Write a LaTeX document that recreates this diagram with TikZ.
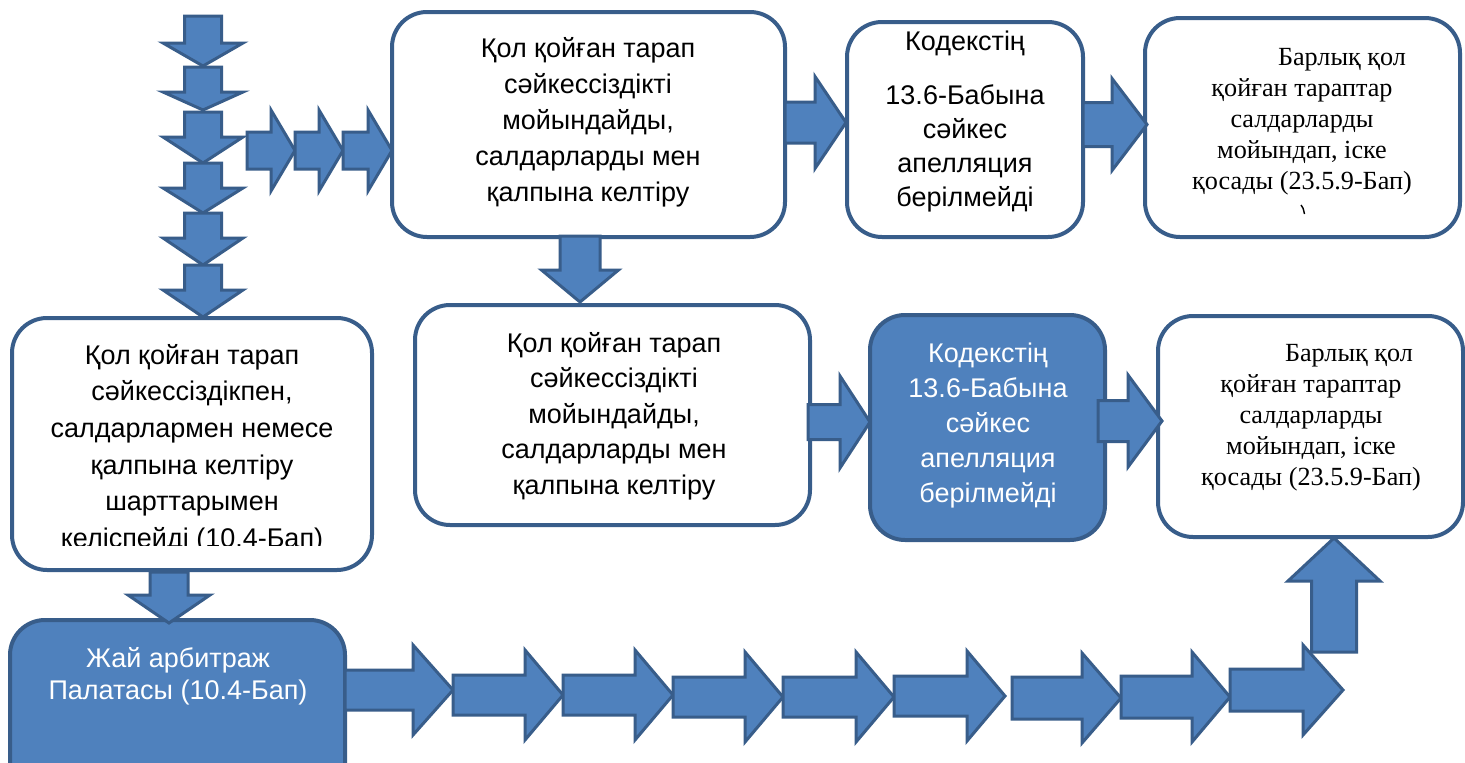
\documentclass[tikz,border=0pt]{standalone}
\usepackage{fontspec}
\setmainfont{Liberation Sans}
\newfontfamily\serifkz{Liberation Serif}
\definecolor{bfill}{HTML}{4F81BD}
\definecolor{bline}{HTML}{385D8A}
\tikzset{
  wbox/.style={draw=bline, line width=4pt, fill=white, rounded corners=35pt, inner sep=0pt},
  bbox/.style={draw=bline, line width=4pt, fill=bfill, rounded corners=35pt, inner sep=0pt},
  blk/.style={draw=bline, line width=3pt, fill=bfill, line join=miter},
  stxt/.style={align=center, inner sep=0pt, font=\fontsize{27}{36}\selectfont},
  rtxt/.style={align=center, inner sep=0pt, font=\serifkz\fontsize{26.2}{31}\selectfont},
}
\newcommand{\RArr}[6]{\draw[blk] (#1,#3-#4) -- (#2-#6,#3-#4) -- (#2-#6,#3-#5) -- (#2,#3) -- (#2-#6,#3+#5) -- (#2-#6,#3+#4) -- (#1,#3+#4) -- cycle;}
\newcommand{\DArr}[6]{\draw[blk] (#1-#4,#2) -- (#1+#4,#2) -- (#1+#4,#3-#6) -- (#1+#5,#3-#6) -- (#1,#3) -- (#1-#5,#3-#6) -- (#1-#4,#3-#6) -- cycle;}
\newcommand{\UArr}[6]{\draw[blk] (#1-#4,#2) -- (#1+#4,#2) -- (#1+#4,#3+#6) -- (#1+#5,#3+#6) -- (#1,#3) -- (#1-#5,#3+#6) -- (#1-#4,#3+#6) -- cycle;}
\begin{document}
\begin{tikzpicture}[x=1pt,y=-1pt]
\clip (0,0) rectangle (1465,763);
\fill[white] (0,0) rectangle (1465,763);

% boxes
\node[wbox, minimum width=393pt, minimum height=225pt] (A) at (588.5,124.5) {};
\node[wbox, minimum width=236pt, minimum height=215pt] (B) at (965,129.5) {};
\node[wbox, minimum width=315pt, minimum height=219pt] (C) at (1302.5,127.5) {};
\node[wbox, minimum width=360pt, minimum height=252pt] (D) at (192,444) {};
\node[wbox, minimum width=395pt, minimum height=220pt] (E) at (612.5,415) {};
\node[bbox, minimum width=235pt, minimum height=225pt] (F) at (987.5,427.5) {};
\node[wbox, minimum width=305pt, minimum height=221pt] (G) at (1310.5,426.5) {};
\node[bbox, minimum width=335pt, minimum height=180pt] (H) at (177.5,710) {};

% texts
\node[stxt] (At) at (588,122) {Қол қойған тарап\\сәйкессіздікті\\мойындайды,\\салдарларды мен\\қалпына келтіру};
\node[stxt, font=\fontsize{27}{34}\selectfont] (Bt) at (965,122) {Кодекстің\\[20pt]13.6-Бабына\\сәйкес\\апелляция\\берілмейді};
\node[rtxt] (Ct) at (1302,122) {\hspace*{80pt}Барлық қол\\қойған тараптар\\салдарларды\\мойындап, іске\\қосады (23.5.9-Бап)};
\draw[line width=1.4pt] (1301,205) .. controls (1303,207.5) .. (1304.5,214);
\begin{scope}
\clip (20,325) rectangle (365,545);
\node[stxt, font=\fontsize{27}{36.6}\selectfont] (Dt) at (192,448.5) {Қол қойған тарап\\сәйкессіздікпен,\\салдарлармен немесе\\қалпына келтіру\\шарттарымен\\келіспейді (10.4-Бап)};
\end{scope}
\node[stxt, font=\fontsize{27}{35.5}\selectfont] (Et) at (614,416) {Қол қойған тарап\\сәйкессіздікті\\мойындайды,\\салдарларды мен\\қалпына келтіру};
\node[stxt, text=white, font=\fontsize{27}{34.8}\selectfont] (Ft) at (988,425.5) {Кодекстің\\13.6-Бабына\\сәйкес\\апелляция\\берілмейді};
\node[rtxt] (Gt) at (1311,417.5) {\hspace*{76pt}Барлық қол\\қойған тараптар\\салдарларды\\мойындап, іске\\қосады (23.5.9-Бап)};
\node[stxt, text=white, font=\fontsize{27}{32}\selectfont] (Ht) at (178,676) {Жай арбитраж\\Палатасы (10.4-Бап)};

% vertical chain top-left
\DArr{203}{16}{66}{18.5}{40}{23}
\DArr{203}{67}{110}{18.5}{40}{18}
\DArr{203}{112}{163}{18.5}{40}{26}
\DArr{203}{163}{213}{18.5}{40}{25}
\DArr{203}{213}{265}{18.5}{40}{27}
\DArr{203}{265}{317}{18.5}{40}{27}

% horizontal chain top
\RArr{247}{295}{150.5}{18.5}{40.5}{24}
\RArr{295}{343}{150.5}{18.5}{40.5}{24}
\RArr{343}{392}{150.5}{18.5}{40.5}{24}

% between boxes
\RArr{785}{846}{122.5}{20.5}{46}{31}
\RArr{1083}{1147}{124.5}{22}{46}{35}
\DArr{580}{236}{302}{20}{38.5}{32}
\RArr{808}{870}{422}{17.5}{46}{30}
\RArr{1098}{1162}{421}{20.5}{46}{34}
\DArr{169}{572}{623}{19}{41}{28}

% bottom chain
\RArr{345}{453}{690}{20}{45}{40}
\RArr{453}{563}{695}{20}{45}{38}
\RArr{563}{673}{695}{20}{45}{38}
\RArr{673}{783}{697}{20}{45}{38}
\RArr{783}{894}{697}{20}{45}{38}
\RArr{894}{1005}{696}{20}{45}{38}
\RArr{1012}{1121}{698}{21}{45}{39}
\RArr{1121}{1230}{697}{21}{45}{38}
\RArr{1230}{1343}{690}{21}{45}{40}
\UArr{1334}{652}{538}{22.5}{46}{43}
\end{tikzpicture}
\end{document}
